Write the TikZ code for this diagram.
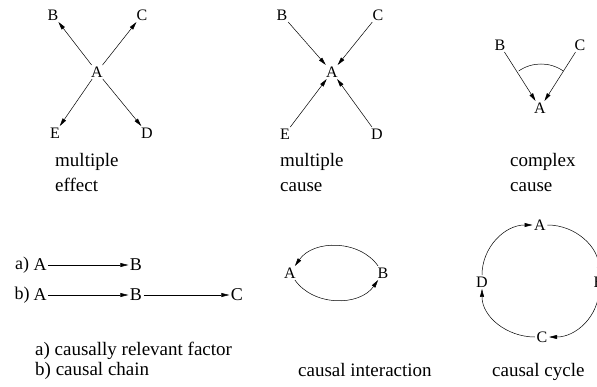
\documentclass[tikz,border=0pt]{standalone}
\usepackage{fontspec}
\setmainfont{Liberation Serif}
\usetikzlibrary{positioning,arrows.meta}
\tikzset{
  lbl/.style={inner sep=1.5pt,font=\fontsize{16}{16}\selectfont},
  rowlbl/.style={lbl,font=\fontsize{18}{18}\selectfont},
  captxt/.style={anchor=base west,inner sep=0pt,align=left,font=\fontsize{19}{25}\selectfont},
  eff/.style={-{Triangle[length=8pt,width=4pt]},line width=0.5pt},
  comb/.style={line width=0.5pt}
}

\begin{document}
\begin{tikzpicture}[x=1pt,y=1pt]
\useasboundingbox (0,0) rectangle (597,386);

% multiple effect
\node[lbl] (A1) at (97,314) {A};
\node[lbl] (B1) at (53,371) {B};
\node[lbl] (C1) at (142,371) {C};
\node[lbl] (E1) at (55,253) {E};
\node[lbl] (D1) at (147,253) {D};
\draw[eff] (A1)--(B1);
\draw[eff] (A1)--(C1);
\draw[eff] (A1)--(E1);
\draw[eff] (A1)--(D1);
\node[captxt] (cap1) at (55,194) {multiple\\effect};

% multiple cause
\node[lbl] (A2) at (332,314) {A};
\node[lbl] (B2) at (282,371) {B};
\node[lbl] (C2) at (378,371) {C};
\node[lbl] (E2) at (285,252) {E};
\node[lbl] (D2) at (377,252) {D};
\draw[eff] (B2)--(A2);
\draw[eff] (C2)--(A2);
\draw[eff] (E2)--(A2);
\draw[eff] (D2)--(A2);
\node[captxt] (cap2) at (280,194) {multiple\\cause};

% complex cause
\node[lbl] (A3) at (540,278) {A};
\node[lbl] (B3) at (500,341) {B};
\node[lbl] (C3) at (580,341) {C};
\draw[eff] (B3)--(A3);
\draw[eff] (C3)--(A3);
\coordinate (ctr) at (541,283);
\draw[comb] ([shift={(55:39)}]ctr) arc[start angle=55,end angle=125,radius=39];
\node[captxt] (cap3) at (510,194) {complex\\cause};

% relevant factor, chain
\node[rowlbl] (ra) at (22,121) {a)};
\node[rowlbl] (Aa) at (40,121) {A};
\node[rowlbl] (Ba) at (136,121) {B};
\draw[eff] (Aa)--(Ba);
\node[rowlbl] (rb) at (22,91) {b)};
\node[rowlbl] (Ab) at (40,91) {A};
\node[rowlbl] (Bb) at (136,91) {B};
\node[rowlbl] (Cb) at (237,91) {C};
\draw[eff] (Ab)--(Bb);
\draw[eff] (Bb)--(Cb);
\node[captxt] (cap4) at (35,11) {a) causally relevant factor\\[-5pt]b) causal chain};

% interaction
\node[lbl] (A5) at (290,113) {A};
\node[lbl] (B5) at (383,113) {B};
\draw[eff] (B5) to[bend right=55] (A5);
\draw[eff] (A5) to[bend right=55] (B5);
\node[captxt] (cap5) at (298,10) {causal interaction};

% cycle
\node[lbl] (A6) at (540,161) {A};
\node[lbl] (B6) at (599,104) {B};
\node[lbl] (C6) at (542,49) {C};
\node[lbl] (D6) at (482,104) {D};
\draw[eff] (D6) to[out=90,in=180] (A6);
\draw[eff] (A6) to[out=0,in=90] (B6);
\draw[eff] (B6) to[out=-90,in=0] (C6);
\draw[eff] (C6) to[out=180,in=-90] (D6);
\node[captxt] (cap6) at (492,10) {causal cycle};
\end{tikzpicture}
\end{document}
